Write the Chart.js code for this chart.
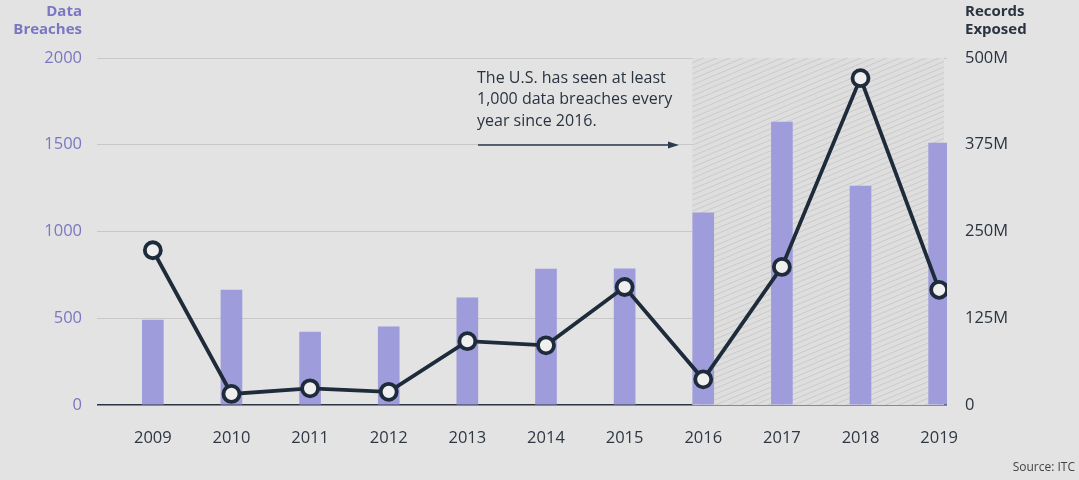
<!DOCTYPE html>
<html>
<head>
<meta charset="utf-8">
<script src="https://cdn.jsdelivr.net/npm/chart.js@4"></script>
<style>
  html, body { margin: 0; padding: 0; background: #e3e3e3; }
  #wrap { width: 1079px; height: 480px; }
</style>
</head>
<body>
<div id="wrap"><canvas id="chart" width="1079" height="480"></canvas></div>
<script>
// =======================
// Data
// =======================
const years = [2009, 2010, 2011, 2012, 2013, 2014, 2015, 2016, 2017, 2018, 2019];
const breaches = [490, 663, 421, 450, 617, 784, 785, 1107, 1631, 1262, 1510];
const recordsM = [223, 16, 24, 19, 92, 86, 170, 37, 199, 471, 166];
const breachTicks = [0, 500, 1000, 1500, 2000];
const recordTicks = [0, 125, 250, 375, 500];
const noteLines = ["The U.S. has seen at least", "1,000 data breaches every", "year since 2016."];

const FONT = "'Open Sans', Lato, sans-serif";
const PURPLE = "#7a77c2";
const NAVY = "#1e2b3a";

// hatched background for 2016 onward
const hatchPlugin = {
  id: "hatch",
  beforeDatasetsDraw(chart) {
    const { ctx, chartArea, scales } = chart;
    const x0 = scales.x.getPixelForValue(2015.86);
    const x1 = chartArea.right - 3;
    const y0 = chartArea.top, y1 = chartArea.bottom;
    ctx.save();
    ctx.beginPath();
    ctx.rect(x0, y0, x1 - x0, y1 - y0);
    ctx.clip();
    ctx.fillStyle = "#dedede";
    ctx.fillRect(x0, y0, x1 - x0, y1 - y0);
    ctx.strokeStyle = "#cacaca";
    ctx.lineWidth = 1;
    const slope = 0.42;
    for (let k = y0 - 200; k < y1 + 200; k += 5.5) {
      ctx.beginPath();
      ctx.moveTo(x0, k + slope * (x1 - x0));
      ctx.lineTo(x1, k);
      ctx.stroke();
    }
    ctx.restore();
  }
};

// axis titles, note, arrow, source
const textPlugin = {
  id: "texts",
  afterDraw(chart) {
    const { ctx } = chart;
    ctx.save();
    ctx.textBaseline = "middle";
    ctx.font = "bold 15px " + FONT;
    ctx.fillStyle = PURPLE;
    ctx.textAlign = "right";
    ctx.fillText("Data", 82, 12);
    ctx.fillText("Breaches", 82, 30);
    ctx.fillStyle = "#2a3440";
    ctx.textAlign = "left";
    ctx.fillText("Records", 965, 12);
    ctx.fillText("Exposed", 965, 30);

    ctx.font = "16px " + FONT;
    ctx.fillStyle = "#2a3440";
    noteLines.forEach((t, i) => ctx.fillText(t, 477, 78 + i * 21.5));

    ctx.strokeStyle = "#2a3a4c";
    ctx.lineWidth = 1.5;
    ctx.beginPath();
    ctx.moveTo(478, 145);
    ctx.lineTo(672, 145);
    ctx.stroke();
    ctx.fillStyle = "#2a3a4c";
    ctx.beginPath();
    ctx.moveTo(679, 145);
    ctx.lineTo(668, 141.5);
    ctx.lineTo(668, 148.5);
    ctx.closePath();
    ctx.fill();

    ctx.font = "12px " + FONT;
    ctx.fillStyle = "#444";
    ctx.textAlign = "right";
    ctx.fillText("Source: ITC", 1075, 468);
    ctx.restore();
  }
};

new Chart(document.getElementById("chart"), {
  type: "bar",
  data: {
    datasets: [
      {
        type: "line",
        data: years.map((y, i) => ({ x: y, y: recordsM[i] })),
        yAxisID: "y2",
        borderColor: NAVY,
        borderWidth: 3.8,
        tension: 0,
        pointRadius: 8,
        pointBorderWidth: 3.8,
        pointBackgroundColor: "#efefef",
        pointBorderColor: NAVY,
        order: 0
      },
      {
        type: "bar",
        data: years.map((y, i) => ({ x: y, y: breaches[i] })),
        yAxisID: "y",
        backgroundColor: "#9f9cdc",
        barThickness: 21,
        order: 1
      }
    ]
  },
  options: {
    responsive: false,
    animation: false,
    events: [],
    layout: { padding: { top: 58, right: 0, left: 0, bottom: 0 } },
    plugins: { legend: { display: false }, tooltip: { enabled: false } },
    scales: {
      x: {
        type: "linear",
        offset: false,
        min: 2008.29,
        max: 2019.1,
        afterBuildTicks: (scale) => { scale.ticks = years.map(v => ({ value: v })); },
        afterFit: (scale) => { scale.height = 75; },
        grid: { display: false, offset: false },
        border: { display: false },
        ticks: {
          padding: 15,
          color: "#2f3743",
          font: { family: FONT, size: 16.5 },
          callback: (v) => String(v),
          maxRotation: 0,
          autoSkip: false
        }
      },
      y: {
        position: "left",
        min: 0,
        max: 2000,
        afterBuildTicks: (scale) => { scale.ticks = breachTicks.map(v => ({ value: v })); },
        afterFit: (scale) => { scale.width = 97; },
        border: { display: false },
        grid: {
          drawTicks: false,
          color: (c) => c.tick && c.tick.value === 0 ? "#2b3440" : "#c8c8c8",
          lineWidth: (c) => c.tick && c.tick.value === 0 ? 1.5 : 1
        },
        ticks: {
          padding: 15,
          color: PURPLE,
          font: { family: FONT, size: 16.5 },
          callback: (v) => String(v)
        }
      },
      y2: {
        position: "right",
        min: 0,
        max: 500,
        afterBuildTicks: (scale) => { scale.ticks = recordTicks.map(v => ({ value: v })); },
        afterFit: (scale) => { scale.width = 132; },
        border: { display: false },
        grid: { display: false, drawTicks: false },
        ticks: {
          padding: 18,
          color: "#2a3440",
          font: { family: FONT, size: 16.5 },
          callback: (v) => v === 0 ? "0" : v + "M"
        }
      }
    }
  },
  plugins: [hatchPlugin, textPlugin]
});
</script>
</body>
</html>
